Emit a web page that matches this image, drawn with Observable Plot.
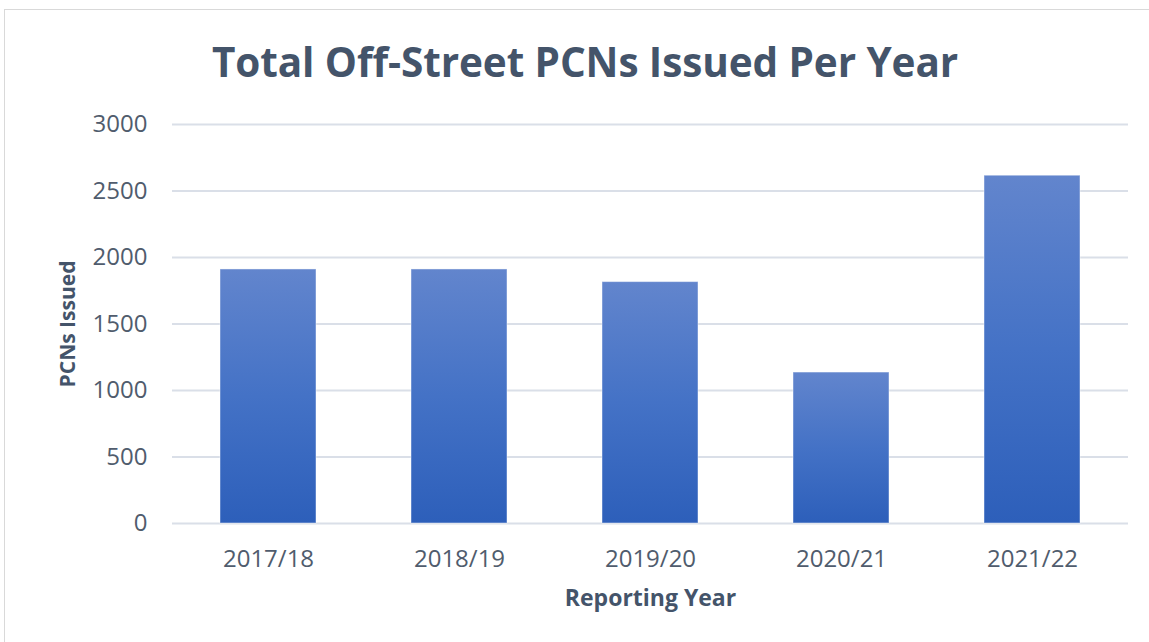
<!DOCTYPE html>
<html>
<head>
<meta charset="utf-8">
<script src="https://cdn.jsdelivr.net/npm/d3@7"></script>
<script src="https://cdn.jsdelivr.net/npm/@observablehq/plot@0.6"></script>
<style>
  html, body { margin: 0; padding: 0; background: #fff; }
  #wrap { position: relative; width: 1149px; height: 642px; overflow: hidden; font-family: "Open Sans", sans-serif; }
  #frame { position: absolute; left: 4px; top: 9px; width: 1160px; height: 700px; border: 1px solid #D9D9D9; box-sizing: border-box; }
  #title { position: absolute; left: 0; top: 0; width: 1170px; height: 105px; text-align: center; line-height: 124px;
           font-size: 40.5px; font-weight: 700; color: #44546A; letter-spacing: -0.1px; }
  #chart { position: absolute; left: 0; top: 105px; }
</style>
</head>
<body>
<div id="wrap">
  <div id="frame"></div>
  <div id="title">Total Off-Street PCNs Issued Per Year</div>
  <div id="chart"></div>
</div>
<script>
const years = ["2017/18", "2018/19", "2019/20", "2020/21", "2021/22"];
const pcns = [1910, 1910, 1815, 1135, 2615];
const yTicks = [0, 500, 1000, 1500, 2000, 2500, 3000];
const xTitle = "Reporting Year";
const yTitle = "PCNs Issued";

const data = years.map((y, i) => ({year: y, value: pcns[i]}));

const textColor = "#505C6D";
const titleColor = "#44546A";

const plot = Plot.plot({
  width: 1149,
  height: 537,
  marginTop: 19,
  marginBottom: 119,
  marginLeft: 172,
  marginRight: 21,
  style: {fontFamily: "'Open Sans', sans-serif", background: "transparent"},
  x: {domain: years, paddingInner: 0.5, paddingOuter: 0.25, label: null},
  y: {domain: [0, 3000], label: null},
  marks: [
    () => {
      const svgNS = "http://www.w3.org/2000/svg";
      const defs = document.createElementNS(svgNS, "defs");
      const g = document.createElementNS(svgNS, "linearGradient");
      g.setAttribute("id", "barGrad");
      g.setAttribute("x1", "0"); g.setAttribute("y1", "0");
      g.setAttribute("x2", "0"); g.setAttribute("y2", "1");
      [["0%", "#6285CD"], ["50%", "#4472C6"], ["100%", "#2D5FBA"]].forEach(([o, c]) => {
        const s = document.createElementNS(svgNS, "stop");
        s.setAttribute("offset", o); s.setAttribute("stop-color", c);
        g.appendChild(s);
      });
      defs.appendChild(g);
      return defs;
    },
    Plot.gridY(yTicks, {stroke: "#DADFE8", strokeOpacity: 1, strokeWidth: 2}),
    Plot.barY(data, {x: "year", y: "value", fill: "url(#barGrad)", stroke: "#ffffff", strokeOpacity: 0.45, strokeWidth: 1}),
    Plot.axisY(yTicks, {tickSize: 0, tickPadding: 25, fontSize: 24, fill: textColor, label: null, tickFormat: d => String(d)}),
    Plot.axisX({tickSize: 0, tickPadding: 26, fontSize: 24, fill: textColor, label: null}),
    Plot.text([xTitle], {frameAnchor: "bottom", dy: 75, fontSize: 23, fontWeight: 700, fill: titleColor, lineAnchor: "middle"}),
    Plot.text([yTitle], {frameAnchor: "left", dx: -104, rotate: -90, textAnchor: "middle", fontSize: 21, fontWeight: 700, fill: titleColor, lineAnchor: "middle"})
  ]
});
document.getElementById("chart").appendChild(plot);
</script>
</body>
</html>
